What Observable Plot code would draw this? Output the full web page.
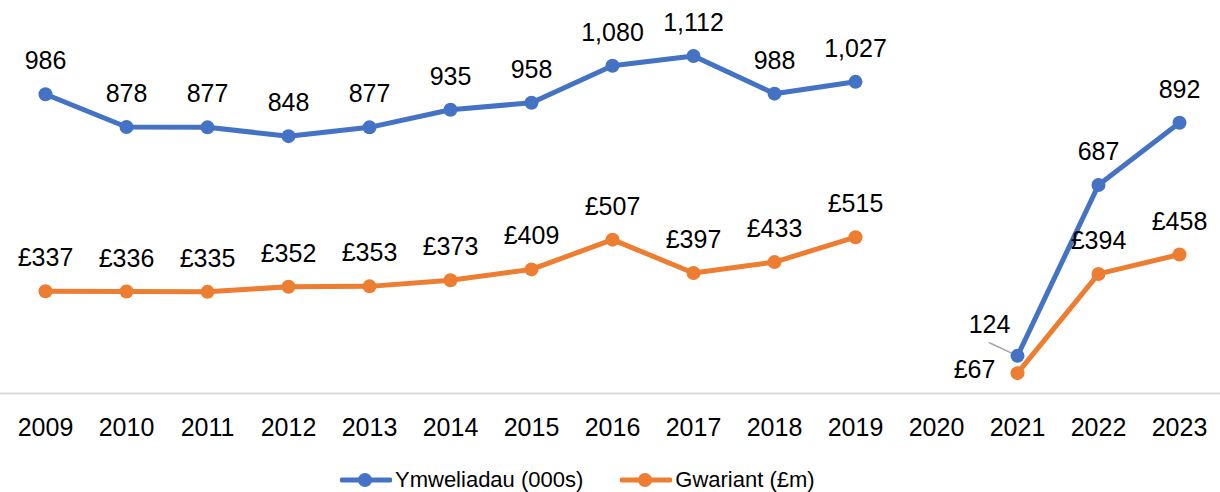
<!DOCTYPE html>
<html>
<head>
<meta charset="utf-8">
<script src="https://cdn.jsdelivr.net/npm/d3@7"></script>
<script src="https://cdn.jsdelivr.net/npm/@observablehq/plot@0.6"></script>
<style>
  html, body { margin: 0; padding: 0; background: #fff; }
  body { width: 1220px; height: 492px; overflow: hidden; font-family: "Liberation Sans", Arial, sans-serif; }
  #legend { display: flex; align-items: center; margin-left: 340px; margin-top: 12px; font-size: 22px; color: #000; }
  .item { display: flex; align-items: center; margin-right: 37px; }
  .item svg { margin-right: 3px; }
</style>
</head>
<body>
<div id="chart"></div>
<div id="legend"></div>
<script>
const years = ["2009","2010","2011","2012","2013","2014","2015","2016","2017","2018","2019","2020","2021","2022","2023"];
const visits = [986, 878, 877, 848, 877, 935, 958, 1080, 1112, 988, 1027, null, 124, 687, 892];
const spend = [337, 336, 335, 352, 353, 373, 409, 507, 397, 433, 515, null, 67, 394, 458];
const seriesNames = ["Ymweliadau (000s)", "Gwariant (£m)"];
const colors = ["#4472C4", "#ED7D31"];

const blue = years.map((y, i) => ({year: y, value: visits[i]}));
const orange = years.map((y, i) => ({year: y, value: spend[i]}));
const blueVals = blue.filter(d => d.value != null);
const orangeVals = orange.filter(d => d.value != null);

const fmtBlue = d => d3.format(",")(d.value);
const fmtOrange = d => "£" + d.value;

const chart = Plot.plot({
  width: 1220,
  height: 455,
  marginLeft: 0,
  marginRight: 0,
  marginTop: 0,
  marginBottom: 62,
  style: {fontFamily: "Liberation Sans, Arial, sans-serif", fontSize: "25px", color: "#000", background: "#fff"},
  x: {type: "point", domain: years, range: [41, 1183], padding: 0, label: null},
  y: {domain: [0, 1295], axis: null},
  marks: [
    Plot.ruleY([0], {stroke: "#d9d9d9", strokeWidth: 2}),
    Plot.axisX({tickSize: 0, tickPadding: 25, fontSize: 25, label: null, fill: "#000"}),
    Plot.line(orange, {x: "year", y: "value", stroke: colors[1], strokeWidth: 5}),
    Plot.line(blue, {x: "year", y: "value", stroke: colors[0], strokeWidth: 5}),
    Plot.vector(blueVals.filter(d => d.year === "2021"), {
      x: "year", y: "value", length: 31, rotate: -65, anchor: "start",
      stroke: "#a6a6a6", strokeWidth: 1.5,
      shape: {draw(context, l) { context.moveTo(0, 0); context.lineTo(0, -l); }}
    }),
    Plot.dot(orangeVals, {x: "year", y: "value", r: 7, fill: colors[1], stroke: null}),
    Plot.dot(blueVals, {x: "year", y: "value", r: 7, fill: colors[0], stroke: null}),
    Plot.text(blueVals.filter(d => d.year !== "2021"), {x: "year", y: "value", text: fmtBlue, dy: -33, fontSize: 25, fill: "#000"}),
    Plot.text(blueVals.filter(d => d.year === "2021"), {x: "year", y: "value", text: fmtBlue, dx: -28, dy: -31, fontSize: 25, fill: "#000"}),
    Plot.text(orangeVals.filter(d => d.year !== "2021"), {x: "year", y: "value", text: fmtOrange, dy: -33, fontSize: 25, fill: "#000"}),
    Plot.text(orangeVals.filter(d => d.year === "2021"), {x: "year", y: "value", text: fmtOrange, dx: -43, dy: -3, fontSize: 25, fill: "#000"})
  ]
});
document.getElementById("chart").appendChild(chart);

const legend = document.getElementById("legend");
seriesNames.forEach((name, i) => {
  const item = document.createElement("div");
  item.className = "item";
  item.innerHTML = `<svg width="52" height="16"><line x1="2" y1="8" x2="50" y2="8" stroke="${colors[i]}" stroke-width="5" stroke-linecap="round"/><circle cx="25" cy="8" r="7" fill="${colors[i]}"/></svg><span>${name}</span>`;
  legend.appendChild(item);
});
</script>
</body>
</html>
